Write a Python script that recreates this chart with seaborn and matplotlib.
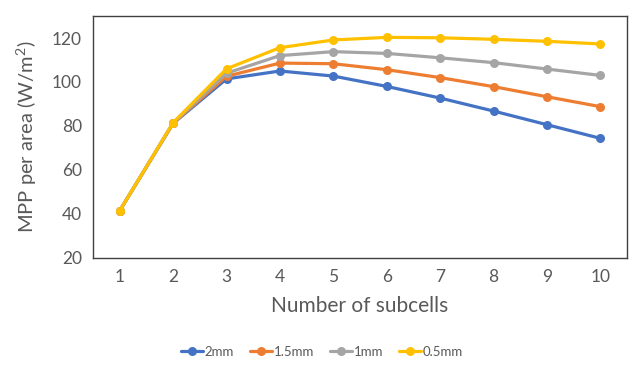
import pandas as pd
import numpy as np
import matplotlib
matplotlib.use("Agg")
import matplotlib.pyplot as plt
import seaborn as sns

subcells = [1, 2, 3, 4, 5, 6, 7, 8, 9, 10]
mpp_2mm = [41.5, 81.2, 101.4, 105.0, 102.7, 98.0, 92.7, 86.8, 80.6, 74.4]
mpp_1p5mm = [41.5, 81.3, 102.6, 108.6, 108.3, 105.6, 102.0, 97.9, 93.3, 88.8]
mpp_1mm = [41.5, 81.4, 104.0, 112.0, 113.8, 113.0, 111.0, 108.8, 105.9, 103.0]
mpp_0p5mm = [41.5, 81.5, 106.0, 115.6, 119.1, 120.3, 120.1, 119.4, 118.5, 117.3]

series = ["2mm", "1.5mm", "1mm", "0.5mm"]
colors = ["#4472C4", "#ED7D31", "#A5A5A5", "#FFC000"]

df = pd.concat([
    pd.DataFrame({"subcells": subcells, "mpp": vals, "gap": name})
    for name, vals in zip(series, [mpp_2mm, mpp_1p5mm, mpp_1mm, mpp_0p5mm])
])

sns.set_theme(style="white")
plt.rcParams["font.family"] = ["Lato", "DejaVu Sans"]
plt.rcParams["mathtext.fontset"] = "custom"
plt.rcParams["mathtext.rm"] = "Lato"
plt.rcParams["mathtext.it"] = "Lato"
text_col = "#595959"

fig = plt.figure(figsize=(6.38, 3.69), dpi=100)
ax = fig.add_axes([93 / 638, 111 / 369, 534 / 638, 242 / 369])

sns.lineplot(data=df, x="subcells", y="mpp", hue="gap", hue_order=series,
             palette=colors, marker="o", markersize=6.5, markeredgewidth=0,
             linewidth=2.3, ax=ax)

ax.set_xlim(0.5, 10.5)
ax.set_ylim(20, 130)
ax.set_xticks(subcells)
ax.set_yticks([20, 40, 60, 80, 100, 120])
ax.tick_params(axis="both", labelsize=12.5, labelcolor=text_col, length=0, pad=8)
ax.set_xlabel("Number of subcells", fontsize=15, color=text_col, labelpad=8)
ax.set_ylabel("MPP per area (W/m$\\mathrm{^2}$)", fontsize=14.5, color=text_col,
              labelpad=9)
for sp in ax.spines.values():
    sp.set_color("#404040")
    sp.set_linewidth(1.0)

handles, labels = ax.get_legend_handles_labels()
ax.legend(handles, labels, loc="center", bbox_to_anchor=(322 / 638, 17 / 369),
          bbox_transform=fig.transFigure, ncol=4, frameon=False, fontsize=9.5,
          handlelength=1.7, handletextpad=0.1, columnspacing=1.2,
          labelcolor=text_col)

fig.savefig("out.png", dpi=100)
